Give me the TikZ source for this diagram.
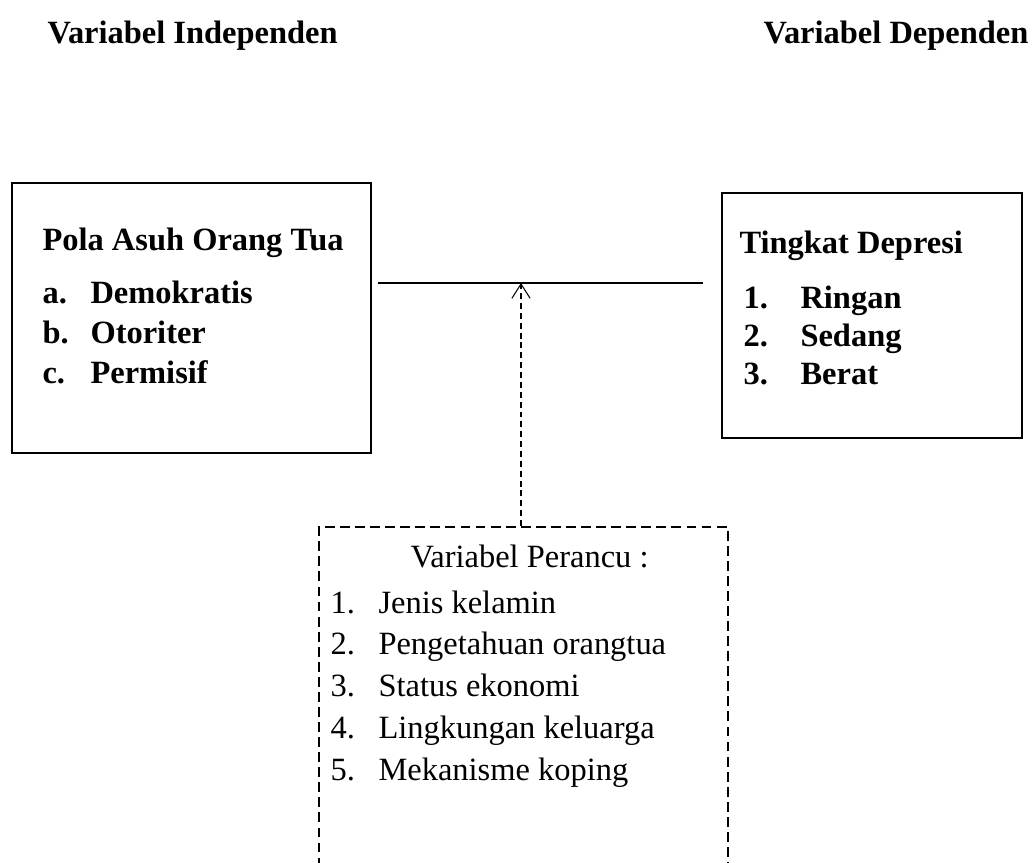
\documentclass[tikz,border=0pt]{standalone}
\usepackage{fontspec}
\setmainfont{Liberation Serif}
\usetikzlibrary{positioning,arrows.meta}

\tikzset{
  box/.style={draw, line width=0.75pt, inner sep=0pt},
  dashbox/.style={draw, line width=0.75pt, inner sep=0pt, dash pattern=on 3.8pt off 2pt},
  txt/.style={anchor=base west, inner sep=0pt, font=\fontsize{12.5}{15}\selectfont},
  btxt/.style={txt, font=\fontsize{12.5}{15}\selectfont\bfseries},
  link/.style={line width=0.4pt},
  conn/.style={line width=0.4pt, dash pattern=on 2.3pt off 1.5pt,
    -{Straight Barb[length=5.5pt,width=7pt,line width=0.4pt]}}
}

\begin{document}
\begin{tikzpicture}[x=0.385pt, y=-0.385pt]
				\useasboundingbox (0,0) rectangle (1032,862);
				\clip (0,0) rectangle (1032,862);
				% titles
				\node[btxt] (indep) at (47,43) {Variabel Independen};
				\node[btxt] (dep) at (763,43) {Variabel Dependen};
				% boxes
				\node[box, minimum width=138.2pt, minimum height=104pt] (pola) at (191.5,318) {};
				\node[box, minimum width=115.5pt, minimum height=94.3pt] (depresi) at (872,315.5) {};
				\node[dashbox, minimum width=157.5pt, minimum height=166.7pt] (perancu) at (523.5,743.5) {};
				% box texts
				\node[btxt] (polatitle) at (42,250) {Pola Asuh Orang Tua};
				\foreach \lab/\item [count=\i] in {a./Demokratis, b./Otoriter, c./Permisif}
				{
					\node[btxt] (polanum\i) at (42,263+40*\i) {\lab};
					\node[btxt] (polaitem\i) at (90,263+40*\i) {\item};
				}
				\node[btxt] (deptitle) at (739,253) {Tingkat Depresi};
				\foreach \item [count=\i] in {Ringan, Sedang, Berat}
				{
					\node[btxt] (depnum\i) at (743,270+38*\i) {\i.};
					\node[btxt] (depitem\i) at (800,270+38*\i) {\item};
				}
				\node[txt] (pertitle) at (410,567) {Variabel Perancu :};
				\foreach \item [count=\i] in {Jenis kelamin, Pengetahuan orangtua, Status ekonomi, Lingkungan keluarga, Mekanisme koping}
				{
					\node[txt] (pernum\i) at (330,571.25+41.75*\i) {\i.};
					\node[txt] (peritem\i) at (378,571.25+41.75*\i) {\item};
				}
				% connectors
				\coordinate (lineL) at (378,283);
				\coordinate (lineR) at (703,283);
				\coordinate (tip) at (521,283);
				\draw[link] (lineL) -- (lineR);
				\draw[conn] (tip |- perancu.north) -- (tip);
			\end{tikzpicture}
\end{document}
